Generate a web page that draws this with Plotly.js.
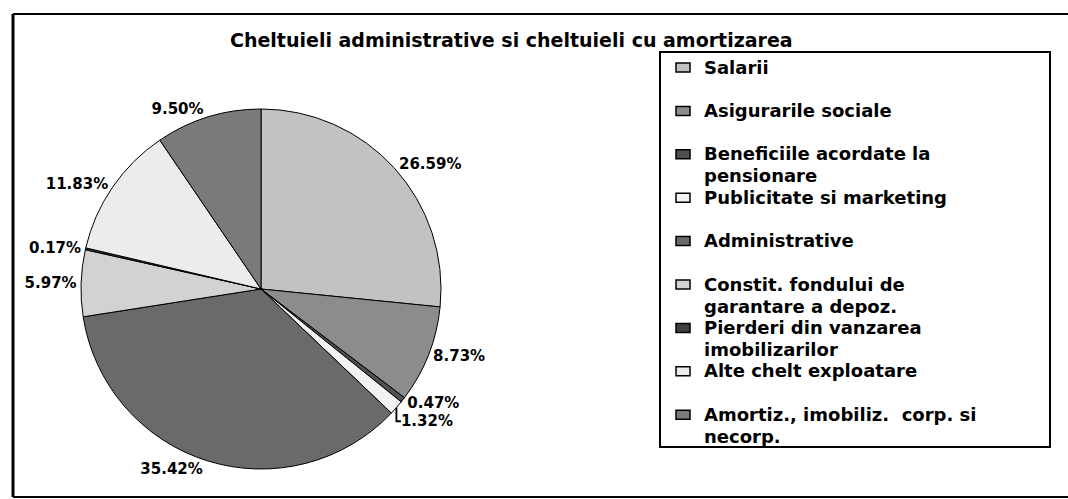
<!DOCTYPE html>
<html>
<head>
<meta charset="utf-8">
<script src="https://cdn.plot.ly/plotly-3.0.1.min.js"></script>
<style>
  body { margin: 0; background: #fff; }
  #grafic { width: 1068px; height: 499px; }
</style>
</head>
<body>
<div id="grafic"></div>
<script>
// Structura cheltuielilor administrative (%)
const categorii = [
    'Salarii',
    'Asigurarile sociale',
    'Beneficiile acordate la<br>pensionare',
    'Publicitate si marketing',
    'Administrative',
    'Constit. fondului de<br>garantare a depoz.',
    'Pierderi din vanzarea<br>imobilizarilor',
    'Alte chelt exploatare',
    'Amortiz., imobiliz.  corp. si<br>necorp.'
];
const procente = [26.59, 8.73, 0.47, 1.32, 35.42, 5.97, 0.17, 11.83, 9.50];
const culori = ['#c2c2c2', '#8c8c8c', '#505050', '#f2f2f2', '#6a6a6a',
                '#d2d2d2', '#404040', '#ececec', '#7a7a7a'];

// pagina e 1068x499 fara margini, deci paper = pixeli
const W = 1068, H = 499;
const px = x => x / W;
const py = y => 1 - y / H;

const fontBold = { family: 'DejaVu Sans', color: '#000', weight: 'bold' };

const data = [{
    type: 'pie',
    labels: categorii,
    values: procente,
    sort: false,
    direction: 'clockwise',
    rotation: 0,
    marker: { colors: culori, line: { color: '#000', width: 1 } },
    texttemplate: '%{value:.2f}%',
    textposition: 'outside',
    textfont: Object.assign({ size: 15 }, fontBold),
    showlegend: false,
    domain: { x: [px(81), px(441)], y: [py(469), py(109)] }
}];

// titlul si legenda desenate de mana (casuta + text pe randuri)
const annotations = [{
    text: 'Cheltuieli administrative si cheltuieli cu amortizarea',
    x: px(511), y: py(40), xref: 'paper', yref: 'paper',
    xanchor: 'center', yanchor: 'middle',
    showarrow: false, font: Object.assign({ size: 19 }, fontBold)
}];
const shapes = [
    // chenarul graficului
    { type: 'line', x0: px(13), x1: px(13), y0: py(14), y1: py(497), line: { color: '#000', width: 3 } },
    { type: 'line', x0: px(13), x1: px(1070), y0: py(14), y1: py(14), line: { color: '#000', width: 2 } },
    { type: 'line', x0: px(13), x1: px(1070), y0: py(497), y1: py(497), line: { color: '#000', width: 2 } },
    // chenarul legendei
    { type: 'rect', x0: px(660), x1: px(1050), y0: py(52), y1: py(447), line: { color: '#000', width: 2 } }
];

categorii.forEach((cat, i) => {
    const y0 = 67 + i * 43.4;
    shapes.push({
        type: 'rect', x0: px(676), x1: px(690), y0: py(y0 - 4), y1: py(y0 + 5),
        fillcolor: culori[i], line: { color: '#000', width: 1.5 }
    });
    cat.split('<br>').forEach((rand, k) => {
        annotations.push({
            text: rand, x: px(703), y: py(y0 + k * 22), xref: 'paper', yref: 'paper',
            xanchor: 'left', yanchor: 'middle', showarrow: false, borderpad: 0,
            font: Object.assign({ size: 18 }, fontBold)
        });
    });
});

const layout = {
    width: W, height: H,
    margin: { l: 0, r: 0, t: 0, b: 0 },
    paper_bgcolor: '#fff',
    annotations: annotations,
    shapes: shapes
};

Plotly.newPlot('grafic', data, layout, { displayModeBar: false });
</script>
</body>
</html>
